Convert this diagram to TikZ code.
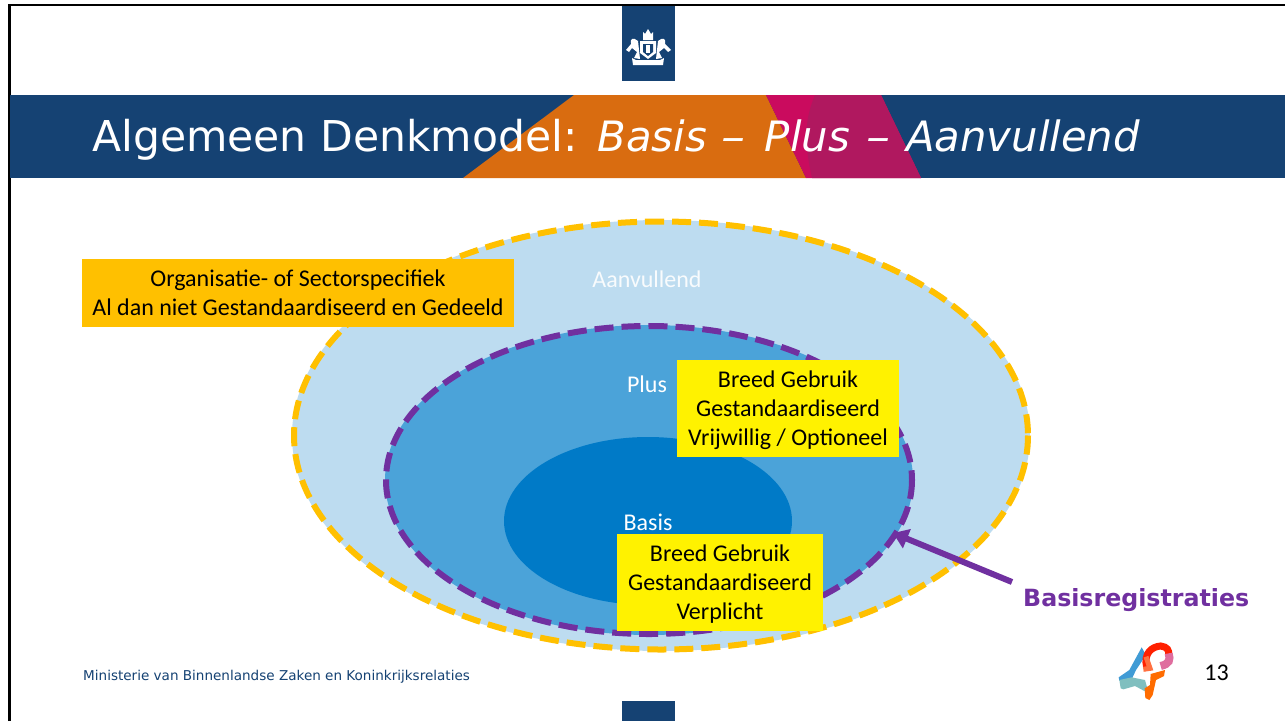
\documentclass[tikz,border=0pt]{standalone}
\usepackage{fontspec}
\usepackage{graphicx}
\setmainfont{Carlito}
\newfontfamily\verd{DejaVu Sans}
\usetikzlibrary{arrows.meta}
\definecolor{navy}{HTML}{154273}
\definecolor{orangeA}{HTML}{D96C10}
\definecolor{pinkA}{HTML}{CA0B5E}
\definecolor{plumA}{HTML}{B0185F}
\definecolor{ringA}{HTML}{BDDCF0}
\definecolor{ringB}{HTML}{4BA3D9}
\definecolor{ringC}{HTML}{007AC7}
\definecolor{gold}{HTML}{FFC000}
\definecolor{purp}{HTML}{7030A0}
\newcommand{\wdash}{\scalebox{1.15}[1]{–}}
\newcommand{\topstrut}{\rule{0pt}{20pt}}
\tikzset{
  px/.style={x=1pt,y=-1pt},
  infobox/.style={fill=#1,text=black,font=\fontsize{24}{28.7}\selectfont,align=center,inner sep=0pt},
  lbl/.style={font=\fontsize{24}{28}\selectfont,text=white,inner sep=0pt},
  dashring/.style={draw=#1,line width=6pt,dash pattern=on 19pt off 8pt}
}
\begin{document}
\begin{tikzpicture}[px]
\useasboundingbox (0,0) rectangle (1285,721);
\fill[white] (0,0) rectangle (1285,721);
% tabs
\fill[navy] (622,5) rectangle (674.5,81);
\fill[navy] (622,701) rectangle (674.5,721);
% frame
\draw[black,line width=2.6pt] (9.5,721) -- (9.5,5) -- (1285,5);
% coat of arms
\begin{scope}[white]
 \fill (643,32) -- (645,34) -- (648,29) -- (651,34) -- (653,32) -- (653,40) -- (643,40) -- cycle;
 \fill (640,41) -- (656,41) -- (656,53) -- (648,59) -- (640,53) -- cycle;
 \fill[navy] (643,44) -- (653,44) -- (653,52) -- (648,56) -- (643,52) -- cycle;
 \fill (646,45) rectangle (650,53);
 \fill (638,41) .. controls (633,37) and (630,38) .. (631,44) -- (626,50) -- (629,52) -- (632,48) -- (637,52) -- (634,58) -- (640,59) -- cycle;
 \fill (658,41) .. controls (663,37) and (666,38) .. (665,44) -- (671,50) -- (668,52) -- (664,48) -- (659,52) -- (662,58) -- (656,59) -- cycle;
 \fill (636,60) -- (660,60) -- (664,58) -- (663,65) -- (633,65) -- (632,58) -- cycle;
\end{scope}
% banner
\fill[navy] (9.5,95) rectangle (1285,178);
\fill[orangeA] (463,178) -- (574,95) -- (766,95) -- (806,178) -- cycle;
\fill[pinkA] (766,95) -- (881,95) -- (921,178) -- (806,178) -- cycle;
\fill[plumA] (815,95) -- (881,95) -- (921,178) -- (812,178) .. controls (806,150) and (802,125) .. (815,95) -- cycle;
\node[anchor=base west,inner sep=0pt,text=white,font=\verd\fontsize{42.5}{48}\selectfont] (title) at (92,151) {Algemeen Denkmodel:\hspace{20pt}\textit{\fontsize{41.8}{48}\selectfont Basis\hspace{15pt}\wdash\hspace{19pt}Plus\hspace{16pt}\wdash\hspace{16pt}Aanvullend}};
% ellipses
\path[fill=ringA] (661,435.5) ellipse [x radius=369,y radius=215.5];
\path[dashring=gold] (661,435.5) ellipse [x radius=367,y radius=214];
\path[fill=ringB] (649,480) ellipse [x radius=264,y radius=155];
\path[fill=ringC] (648,521) ellipse [x radius=144,y radius=84];
\path[dashring=purp] (649,480) ellipse [x radius=263,y radius=154];
% labels
\node[lbl,text=white!90!ringA] (aanv) at (647,279) {Aanvullend};
\node[lbl] (plus) at (647,384) {Plus};
\node[lbl] (basis) at (648,522) {Basis};
% boxes
\node[infobox=gold,minimum width=432pt,minimum height=68pt] (org) at (298,293) {Organisatie- of Sectorspecifiek\\Al dan niet Gestandaardiseerd en Gedeeld};
\node[infobox=yellow,minimum width=222pt,minimum height=97pt] (vrij) at (788,408.5) {\topstrut Breed Gebruik\\Gestandaardiseerd\\Vrijwillig / Optioneel};
\node[infobox=yellow,minimum width=206pt,minimum height=97pt] (verp) at (720,582.5) {\topstrut Breed Gebruik\\Gestandaardiseerd\\Verplicht};
% arrow
\node[anchor=base west,inner sep=0pt,text=purp,font=\verd\bfseries\fontsize{23.7}{28}\selectfont] (reg) at (1023,606) {Basisregistraties};
\coordinate (from) at (1012,582);
\coordinate (to) at (893,533);
\draw[purp,line width=6pt,-{Triangle[length=15pt,width=20pt]}] (from) -- (to);
% footer
\node[anchor=west,inner sep=0pt,text=navy,font=\verd\fontsize{13.55}{16}\selectfont] (foot) at (83,677) {Ministerie van Binnenlandse Zaken en Koninkrijksrelaties};
\node[inner sep=0pt,text=black,font=\fontsize{24}{28}\selectfont] (page) at (1216.5,673) {13};
% ribbon logo
\begin{scope}[shift={(1090,620)},x=0.3333pt,y=-0.3333pt]
 \fill[ringC!75!white] (155,82) -- (168,105) -- (138,150) -- (125,178) -- (100,186) -- (88,182) -- (86,172) -- (118,150) -- cycle;
 \fill[teal!50!white] (88,180) -- (125,172) -- (165,180) -- (172,205) -- (165,214) -- (135,198) -- (100,208) -- (92,205) -- cycle;
 \fill[orange!85!red] (182,162) -- (225,150) -- (222,168) -- (198,180) -- (188,225) -- (178,240) -- (166,234) -- (164,205) -- (180,195) -- cycle;
 \draw[red!75!orange,line width=7pt] (170,142) .. controls (160,100) and (185,80) .. (212,78) .. controls (232,80) and (238,92) .. (236,104);
 \draw[pinkA!60!white,line width=8pt] (236,100) .. controls (242,120) and (238,132) .. (212,138);
 \draw[red!50!orange!75!white,line width=5pt] (168,110) -- (180,145) -- (160,148);
\end{scope}
\end{tikzpicture}
\end{document}
